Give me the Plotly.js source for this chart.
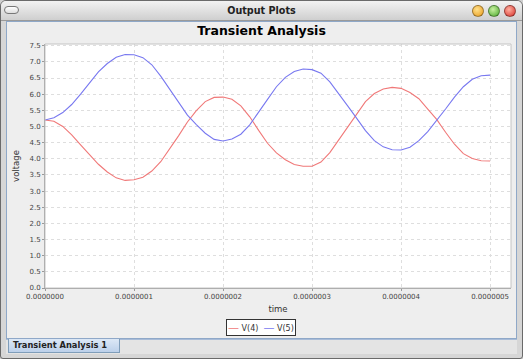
<!DOCTYPE html>
<html>
<head>
<meta charset="utf-8">
<script src="https://cdn.plot.ly/plotly-3.0.1.min.js"></script>
<style>
  html, body { margin:0; padding:0; width:523px; height:359px; overflow:hidden; background:#cfcfcf; font-family:"DejaVu Sans", sans-serif; }
  #win { position:absolute; left:0; top:0; width:521px; height:357px; border:1px solid #6a6a6a; border-radius:6px 6px 3px 3px; background:#d6d6d6; overflow:hidden; }
  #titlebar { position:absolute; left:0; top:0; width:521px; height:19px; background:linear-gradient(#f2f2f2, #cfcfcf); border-bottom:1px solid #9a9a9a; }
  #titlebar .t { position:absolute; left:0; width:521px; top:4px; text-align:center; font-weight:bold; font-size:9.6px; color:#222; }
  .pill { position:absolute; left:3px; top:5px; width:13px; height:6px; border:1px solid #777; border-radius:4px; background:linear-gradient(#fff,#ddd); }
  .dot { position:absolute; top:4px; width:10px; height:10px; border-radius:50%; border:1px solid rgba(0,0,0,0.35); }
  #panel { position:absolute; left:5px; top:20px; width:509px; height:316px; background:#eeeeee; border:1px solid #8fa8c8; }
  #tabstrip { position:absolute; left:5px; top:338px; width:511px; height:14px; background:#e4e4e4; border-top:1px solid #a8bcd8; }
  #tab { position:absolute; left:7px; top:338px; width:106px; height:13px; background:linear-gradient(#dce8f6,#bcd0ea); border:1px solid #7f9db9; border-top:none; font-weight:bold; font-size:8.3px; color:#222; line-height:13px; padding-left:4px; white-space:nowrap; }
  #plot { position:absolute; left:0; top:0; width:523px; height:359px; }
</style>
</head>
<body>
<div id="win">
  <div id="titlebar">
    <div class="pill"></div>
    <div class="t">Output Plots</div>
    <div class="dot" style="left:471px;background:radial-gradient(circle at 40% 35%, #ffe08a, #e89a1a);"></div>
    <div class="dot" style="left:487px;background:radial-gradient(circle at 40% 35%, #c8f0a0, #4aa82a);"></div>
    <div class="dot" style="left:503px;background:radial-gradient(circle at 40% 35%, #ffb0a0, #d8302a);"></div>
  </div>
  <div id="panel"></div>
  <div id="tabstrip"></div>
  <div id="tab">Transient Analysis 1</div>
</div>
<div id="plot"></div>
<script>
// time in seconds (steps of 1e-8)
const time = [0,1e-8,2e-8,3e-8,4e-8,5e-8,6e-8,7e-8,8e-8,9e-8,
  1.0e-7,1.1e-7,1.2e-7,1.3e-7,1.4e-7,1.5e-7,1.6e-7,1.7e-7,1.8e-7,1.9e-7,
  2.0e-7,2.1e-7,2.2e-7,2.3e-7,2.4e-7,2.5e-7,2.6e-7,2.7e-7,2.8e-7,2.9e-7,
  3.0e-7,3.1e-7,3.2e-7,3.3e-7,3.4e-7,3.5e-7,3.6e-7,3.7e-7,3.8e-7,3.9e-7,
  4.0e-7,4.1e-7,4.2e-7,4.3e-7,4.4e-7,4.5e-7,4.6e-7,4.7e-7,4.8e-7,4.9e-7,5.0e-7];
const v4 = [5.20,5.16,5.00,4.74,4.43,4.12,3.83,3.59,3.41,3.33,
  3.35,3.43,3.62,3.91,4.30,4.71,5.14,5.49,5.77,5.90,
  5.91,5.84,5.64,5.30,4.88,4.48,4.18,3.97,3.82,3.77,
  3.77,3.90,4.19,4.58,4.99,5.40,5.77,6.02,6.16,6.21,
  6.18,6.05,5.86,5.54,5.22,4.82,4.45,4.16,4.01,3.94,3.93];
const v5 = [5.20,5.27,5.43,5.68,6.00,6.36,6.69,6.95,7.14,7.23,
  7.22,7.13,6.91,6.56,6.16,5.75,5.35,5.06,4.79,4.60,
  4.55,4.61,4.76,5.05,5.43,5.84,6.23,6.52,6.70,6.78,
  6.76,6.65,6.38,6.02,5.64,5.26,4.87,4.56,4.37,4.28,
  4.27,4.36,4.56,4.84,5.18,5.54,5.91,6.23,6.46,6.57,6.59];
const names = ["V(4)", "V(5)"];
const colors = ["#f07878", "#7878f0"];

const traces = [v4, v5].map((v, i) => ({
  x: time, y: v, name: names[i], type: "scatter", mode: "lines",
  line: {color: colors[i], width: 1.1}
}));

const F = "DejaVu Sans, sans-serif";
const tickFont = {family: F, size: 7, color: "#444"};
const legendText = names.map((n, i) => `<span style="color:${colors[i]};font-size:11px">—</span> ${n}`).join("  ");
const layout = {
  width: 523, height: 359,
  paper_bgcolor: "rgba(0,0,0,0)", plot_bgcolor: "#ffffff",
  margin: {l: 45, r: 12, t: 44, b: 71, pad: 0},
  title: {text: "<b>Transient Analysis</b>", font: {family: F, size: 12.5, color: "#000"}, x: 0.5, xanchor: "center", y: 1 - 31/359, yanchor: "middle"},
  showlegend: false,
  xaxis: {
    range: [0, 5.235e-7], tick0: 0, dtick: 1e-7, tickformat: ".7f",
    showgrid: true, gridcolor: "#dedede", griddash: "dot", gridwidth: 1,
    zeroline: false, showline: true, linecolor: "#999", linewidth: 1,
    ticks: "outside", ticklen: 2, tickcolor: "#999", tickfont: tickFont,
    title: {text: "time", font: {family: F, size: 8.5, color: "#333"}, standoff: 5}
  },
  yaxis: {
    range: [0, 7.553], tick0: 0, dtick: 0.5, tickformat: ".1f",
    showgrid: true, gridcolor: "#dedede", griddash: "dot", gridwidth: 1,
    zeroline: false, showline: true, linecolor: "#999", linewidth: 1,
    ticks: "outside", ticklen: 2, tickcolor: "#999", tickfont: tickFont,
    title: {text: "voltage", font: {family: F, size: 8.5, color: "#333"}, standoff: 8}
  },
  annotations: [{
    xref: "paper", yref: "paper", x: (260.8 - 45) / 466, y: (288.3 - 327.5) / 244.3,
    xanchor: "center", yanchor: "middle", showarrow: false,
    text: legendText, font: {family: F, size: 8, color: "#333"},
    bgcolor: "#ffffff", bordercolor: "#333", borderwidth: 1, borderpad: 1
  }],
  shapes: [{type: "rect", xref: "paper", yref: "paper", x0: 0, x1: 1, y0: 0, y1: 1, line: {color: "#c4c4c4", width: 1}}]
};
Plotly.newPlot("plot", traces, layout, {displayModeBar: false, staticPlot: true});
</script>
</body>
</html>
